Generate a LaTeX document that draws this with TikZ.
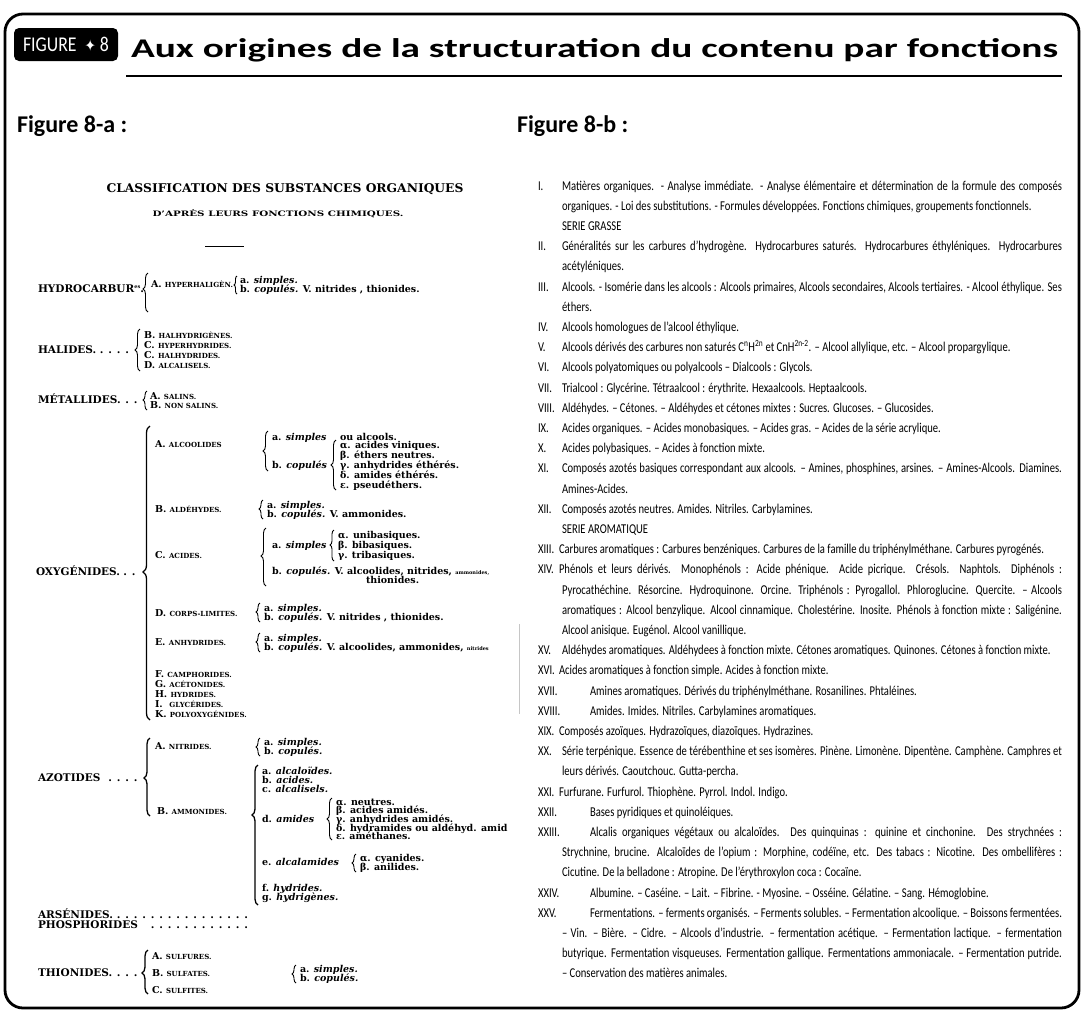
\documentclass[tikz,border=0pt]{standalone}
\usepackage{fontspec}
\usepackage{graphicx}
\usetikzlibrary{decorations.pathreplacing}
\setmainfont{Carlito}
\newfontfamily\scan{DejaVu Serif}
\newfontfamily\djv{DejaVu Sans}
\newfontfamily\cond[FakeStretch=0.785]{Carlito}

\tikzset{
  every node/.style={inner sep=0pt, outer sep=0pt},
  rt/.style={anchor=base west, font=\cond\fontsize{13.5}{16}\selectfont},
  lt/.style={anchor=base west, font=\scan\bfseries\fontsize{9.5}{10}\selectfont},
  cat/.style={anchor=base west, font=\scan\bfseries\fontsize{10.5}{11}\selectfont},
  brc/.style={decorate, line width=0.9pt},
}
\newcommand\smc[1]{{\fontsize{7}{8}\selectfont #1}}
\newcommand\tnyf[1]{{\fontsize{5}{5}\selectfont #1}}
\newcommand\dl[2]{\makebox[#1pt][l]{#2\leaders\hbox to 8.5pt{\hss.\hss}\hfill}}
% brace: name, x, ytop, ybot, ytip, amplitude
\newcommand\Br[6]{%
  \coordinate (#1t) at (#2,#3); \coordinate (#1b) at (#2,#4);
  \pgfmathsetmacro\asp{(#4-#5)/(#4-#3)}
  \draw[brc, decoration={brace,amplitude=#6pt,aspect=\asp}] (#1b) -- (#1t);}
\newcommand\BBr[6]{%
  \coordinate (#1t) at (#2,#3); \coordinate (#1b) at (#2,#4);
  \pgfmathsetmacro\asp{(#4-#5)/(#4-#3)}
  \draw[brc, line width=1.3pt, decoration={brace,amplitude=#6pt,aspect=\asp}] (#1b) -- (#1t);}
\newcommand\Lf[4]{\node[lt] (#1) at (#2,#3+3.5) {#4};}
\newcommand\Cf[4]{\node[cat] (#1) at (#2,#3+3.5) {#4};}
\newcommand\Rl[4]{\node[rt] (#1) at (#2,{190+20.2*(#3-1)}) {#4};}
\newcommand\Rj[4]{\node[rt] (#1) at (#2,{190+20.2*(#3-1)}) {\makebox[\dimexpr1062pt-#2pt\relax][s]{#4}};}
\newcommand\Rn[3]{\node[rt] (#1) at (538,{190+20.2*(#2-1)}) {#3};}

\begin{document}
\begin{tikzpicture}[x=1pt,y=-1pt]
\useasboundingbox (0,0) rectangle (1082,1010);
% frame
\draw[line width=2.8pt, rounded corners=18pt] (5,14) rectangle (1079,1008);
% header
\node[fill=black, rounded corners=5pt, minimum width=104, minimum height=33, text=white,
      font=\fontsize{21}{23}\selectfont] (figbox) at (66,44.5)
      {\resizebox{86pt}{\height}{FIGURE\ \ {\djv\fontsize{16}{16}\selectfont ✦}\ 8}};
\node[anchor=base west, font=\bfseries\fontsize{27}{30}\selectfont] (title) at (131,57)
      {\resizebox{927pt}{\height}{Aux origines de la structuration du contenu par fonctions}};
\coordinate (u1) at (126,76); \coordinate (u2) at (1062,76);
\draw[line width=2pt] (u1) -- (u2);
\node[anchor=base west, font=\bfseries\fontsize{24}{26}\selectfont] (fa) at (17,132) {Figure 8-a :};
\node[anchor=base west, font=\bfseries\fontsize{24}{26}\selectfont] (fb) at (517,132) {Figure 8-b :};

% ===== Figure 8-a (scan) =====
\node[font=\scan\bfseries\fontsize{12}{12}\selectfont] (cls) at (285,189)
   {\resizebox{357pt}{\height}{CLASSIFICATION DES SUBSTANCES ORGANIQUES}};
\node[font=\scan\bfseries\fontsize{7.5}{8}\selectfont] (dap) at (278,214)
   {\resizebox{251pt}{\height}{D’APRÈS LEURS FONCTIONS CHIMIQUES.}};
\coordinate (rl1) at (205,246); \coordinate (rl2) at (244,246);
\draw[line width=1pt] (rl1) -- (rl2);

\Cf{hyd}{38}{289}{HYDROCARBUR{\fontsize{5}{5}\selectfont\raisebox{4pt}{es}}.}
\Br{bhyd}{148}{273}{312}{289}{5}
\Lf{hypa}{151}{284}{A. \smc{HYPERHALIGÈN.}}
\Br{bhyp}{237}{276}{294}{285}{3}
\Lf{hyp1}{240}{280}{a. \textit{simples.}}
\Lf{hyp2}{240}{289}{b. \textit{copulés.} V. nitrides , thionides.}

\Cf{hal}{38}{350}{\dl{97}{HALIDES.}}
\Br{bhal}{140}{329}{371}{350}{5}
\Lf{hal1}{144}{335}{B. \smc{HALHYDRIGÈNES.}}
\Lf{hal2}{144}{345}{C. \smc{HYPERHYDRIDES.}}
\Lf{hal3}{144}{355}{C. \smc{HALHYDRIDES.}}
\Lf{hal4}{144}{365}{D. \smc{ALCALISELS.}}

\Cf{met}{38}{400}{\dl{105}{MÉTALLIDES.}}
\Br{bmet}{147}{391}{410}{400}{4}
\Lf{met1}{150}{396}{A. \smc{SALINS.}}
\Lf{met2}{150}{405}{B. \smc{NON SALINS.}}

\Cf{oxy}{36}{572}{\dl{103}{OXYGÉNIDES.}}
\BBr{boxy}{150}{426}{720}{572}{7}
\Lf{alc}{155}{444}{A. \smc{ALCOOLIDES}}
\Br{balc}{268}{431}{471}{451}{5}
\Lf{alc1}{272}{437}{a. \textit{simples}}
\Lf{alc1b}{340}{437}{ou alcools.}
\Lf{alc2}{272}{465}{b. \textit{copulés}}
\Br{balc2}{336}{440}{490}{465}{5}
\Lf{alg1}{340}{445}{α. acides viniques.}
\Lf{alg2}{340}{455}{β. éthers neutres.}
\Lf{alg3}{340}{465}{γ. anhydrides éthérés.}
\Lf{alg4}{340}{475}{δ. amides éthérés.}
\Lf{alg5}{340}{485}{ε. pseudéthers.}

\Lf{ald}{155}{509}{B. \smc{ALDÉHYDES.}}
\Br{bald}{263}{500}{519}{509}{4}
\Lf{ald1}{267}{505}{a. \textit{simples.}}
\Lf{ald2}{267}{514}{b. \textit{copulés.} V. ammonides.}

\Lf{aci}{155}{555}{C. \smc{ACIDES.}}
\Br{baci}{266}{528}{586}{556}{5}
\Lf{aci1}{272}{545}{a. \textit{simples}}
\Br{baci1}{334}{530}{561}{545}{4}
\Lf{acg1}{338}{535}{α. unibasiques.}
\Lf{acg2}{338}{545}{β. bibasiques.}
\Lf{acg3}{338}{555}{γ. tribasiques.}
\Lf{aci2}{272}{571}{b. \textit{copulés.} V. alcoolides, nitrides, \tnyf{ammonides,}}
\Lf{aci3}{366}{580}{thionides.}

\Lf{cor}{155}{613}{D. \smc{CORPS-LIMITES.}}
\Br{bcor}{260}{603}{622}{612}{4}
\Lf{cor1}{264}{608}{a. \textit{simples.}}
\Lf{cor2}{264}{617}{b. \textit{copulés.} V. nitrides , thionides.}

\Lf{anh}{155}{642}{E. \smc{ANHYDRIDES.}}
\Br{banh}{260}{633}{652}{642}{4}
\Lf{anh1}{264}{638}{a. \textit{simples.}}
\Lf{anh2}{264}{647}{b. \textit{copulés.} V. alcoolides, ammonides, \tnyf{nitrides}}
\coordinate (sc1) at (519,624); \coordinate (sc2) at (519,714);
\draw[gray!45, line width=0.4pt] (sc1) -- (sc2);

\Lf{cam}{155}{674}{F. \smc{CAMPHORIDES.}}
\Lf{ace}{155}{684}{G. \smc{ACÉTONIDES.}}
\Lf{hydr}{155}{694}{H. \smc{HYDRIDES.}}
\Lf{gly}{155}{704}{I.\ \ \smc{GLYCÉRIDES.}}
\Lf{pol}{155}{714}{K. \smc{POLYOXYGÉNIDES.}}

\Cf{azo}{38}{778}{\dl{105}{AZOTIDES }}
\BBr{bazo}{150}{738}{816}{778}{6}
\Lf{nit}{155}{746}{A. \smc{NITRIDES.}}
\Br{bnit}{260}{738}{756}{747}{4}
\Lf{nit1}{264}{742}{a. \textit{simples.}}
\Lf{nit2}{264}{751}{b. \textit{copulés.}}
\Lf{amm}{157}{811}{B. \smc{AMMONIDES.}}
\BBr{bamm}{258}{765}{905}{815}{6}
\Lf{amm1}{262}{771}{a. \textit{alcaloïdes.}}
\Lf{amm2}{262}{780}{b. \textit{acides.}}
\Lf{amm3}{262}{789}{c. \textit{alcalisels.}}
\Lf{amm4}{262}{819}{d. \textit{amides}}
\Br{bami}{332}{798}{840}{819}{5}
\Lf{ami1}{336}{802}{α. neutres.}
\Lf{ami2}{336}{810}{β. acides amidés.}
\Lf{ami3}{336}{819}{γ. anhydrides amidés.}
\Lf{ami4}{336}{828}{δ. hydramides ou aldéhyd. amid}
\Lf{ami5}{336}{836}{ε. améthanes.}
\Lf{amm5}{262}{862}{e. \textit{alcalamides}}
\Br{bala}{356}{854}{872}{863}{4}
\Lf{ala1}{360}{858}{α. cyanides.}
\Lf{ala2}{360}{867}{β. anilides.}
\Lf{amm6}{262}{888}{f. \textit{hydrides.}}
\Lf{amm7}{262}{897}{g. \textit{hydrigènes.}}

\Cf{ars}{38}{915}{\dl{217}{ARSÉNIDES.}}
\Cf{pho}{38}{925}{\dl{217}{PHOSPHORIDES }}
\Cf{thi}{38}{973}{\dl{105}{THIONIDES.}}
\BBr{bthi}{148}{950}{994}{973}{6}
\Lf{thi1}{152}{956}{A. \smc{SULFURES.}}
\Lf{thi2}{152}{973}{B. \smc{SULFATES.}}
\Lf{thi3}{152}{990}{C. \smc{SULFITES.}}
\Br{bths}{296}{965}{983}{974}{4}
\Lf{ths1}{300}{969}{a. \textit{simples.}}
\Lf{ths2}{300}{978}{b. \textit{copulés.}}

% ===== Figure 8-b (list) =====
\Rn{n1}{1}{I.}
\Rj{r1}{562}{1}{Matières organiques. - Analyse immédiate. - Analyse élémentaire et détermination de la formule des composés}
\Rl{r2}{562}{2}{organiques. - Loi des substitutions. - Formules développées. Fonctions chimiques, groupements fonctionnels.}
\Rl{r3}{562}{3}{SERIE GRASSE}
\Rn{n4}{4}{II.}
\Rj{r4}{562}{4}{Généralités sur les carbures d’hydrogène. Hydrocarbures saturés. Hydrocarbures éthyléniques. Hydrocarbures}
\Rl{r5}{562}{5}{acétyléniques.}
\Rn{n6}{6}{III.}
\Rj{r6}{562}{6}{Alcools. - Isomérie dans les alcools : Alcools primaires, Alcools secondaires, Alcools tertiaires. - Alcool éthylique. Ses}
\Rl{r7}{562}{7}{éthers.}
\Rn{n8}{8}{IV.}
\Rl{r8}{562}{8}{Alcools homologues de l’alcool éthylique.}
\Rn{n9}{9}{V.}
\Rl{r9}{562}{9}{Alcools dérivés des carbures non saturés C\textsuperscript{n}H\textsuperscript{2n} et CnH\textsuperscript{2n-2}. – Alcool allylique, etc. – Alcool propargylique.}
\Rn{n10}{10}{VI.}
\Rl{r10}{562}{10}{Alcools polyatomiques ou polyalcools – Dialcools : Glycols.}
\Rn{n11}{11}{VII.}
\Rl{r11}{562}{11}{Trialcool : Glycérine. Tétraalcool : érythrite. Hexaalcools. Heptaalcools.}
\Rn{n12}{12}{VIII.}
\Rl{r12}{562}{12}{Aldéhydes. – Cétones. – Aldéhydes et cétones mixtes : Sucres. Glucoses. – Glucosides.}
\Rn{n13}{13}{IX.}
\Rl{r13}{562}{13}{Acides organiques. – Acides monobasiques. – Acides gras. – Acides de la série acrylique.}
\Rn{n14}{14}{X.}
\Rl{r14}{562}{14}{Acides polybasiques. – Acides à fonction mixte.}
\Rn{n15}{15}{XI.}
\Rj{r15}{562}{15}{Composés azotés basiques correspondant aux alcools. – Amines, phosphines, arsines. – Amines-Alcools. Diamines.}
\Rl{r16}{562}{16}{Amines-Acides.}
\Rn{n17}{17}{XII.}
\Rl{r17}{562}{17}{Composés azotés neutres. Amides. Nitriles. Carbylamines.}
\Rl{r18}{562}{18}{SERIE AROMATIQUE}
\Rn{n19}{19}{XIII.}
\Rl{r19}{559}{19}{Carbures aromatiques : Carbures benzéniques. Carbures de la famille du triphénylméthane. Carbures pyrogénés.}
\Rn{n20}{20}{XIV.}
\Rj{r20}{559}{20}{Phénols et leurs dérivés. Monophénols : Acide phénique. Acide picrique. Crésols. Naphtols. Diphénols :}
\Rj{r21}{562}{21}{Pyrocathéchine. Résorcine. Hydroquinone. Orcine. Triphénols : Pyrogallol. Phloroglucine. Quercite. – Alcools}
\Rj{r22}{562}{22}{aromatiques : Alcool benzylique. Alcool cinnamique. Cholestérine. Inosite. Phénols à fonction mixte : Saligénine.}
\Rl{r23}{562}{23}{Alcool anisique. Eugénol. Alcool vanillique.}
\Rn{n24}{24}{XV.}
\Rl{r24}{562}{24}{Aldéhydes aromatiques. Aldéhydees à fonction mixte. Cétones aromatiques. Quinones. Cétones à fonction mixte.}
\Rn{n25}{25}{XVI.}
\Rl{r25}{559}{25}{Acides aromatiques à fonction simple. Acides à fonction mixte.}
\Rn{n26}{26}{XVII.}
\Rl{r26}{590}{26}{Amines aromatiques. Dérivés du triphénylméthane. Rosanilines. Phtaléines.}
\Rn{n27}{27}{XVIII.}
\Rl{r27}{590}{27}{Amides. Imides. Nitriles. Carbylamines aromatiques.}
\Rn{n28}{28}{XIX.}
\Rl{r28}{559}{28}{Composés azoïques. Hydrazoïques, diazoïques. Hydrazines.}
\Rn{n29}{29}{XX.}
\Rj{r29}{562}{29}{Série terpénique. Essence de térébenthine et ses isomères. Pinène. Limonène. Dipentène. Camphène. Camphres et}
\Rl{r30}{562}{30}{leurs dérivés. Caoutchouc. Gutta-percha.}
\Rn{n31}{31}{XXI.}
\Rl{r31}{559}{31}{Furfurane. Furfurol. Thiophène. Pyrrol. Indol. Indigo.}
\Rn{n32}{32}{XXII.}
\Rl{r32}{590}{32}{Bases pyridiques et quinoléiques.}
\Rn{n33}{33}{XXIII.}
\Rj{r33}{590}{33}{Alcalis organiques végétaux ou alcaloïdes. Des quinquinas : quinine et cinchonine. Des strychnées :}
\Rj{r34}{562}{34}{Strychnine, brucine. Alcaloïdes de l’opium : Morphine, codéïne, etc. Des tabacs : Nicotine. Des ombellifères :}
\Rl{r35}{562}{35}{Cicutine. De la belladone : Atropine. De l’érythroxylon coca : Cocaïne.}
\Rn{n36}{36}{XXIV.}
\Rl{r36}{590}{36}{Albumine. – Caséine. – Lait. – Fibrine. - Myosine. – Osséine. Gélatine. – Sang. Hémoglobine.}
\Rn{n37}{37}{XXV.}
\Rj{r37}{590}{37}{Fermentations. – ferments organisés. – Ferments solubles. – Fermentation alcoolique. – Boissons fermentées.}
\Rj{r38}{562}{38}{– Vin. – Bière. – Cidre. – Alcools d’industrie. – fermentation acétique. – Fermentation lactique. – fermentation}
\Rj{r39}{562}{39}{butyrique. Fermentation visqueuses. Fermentation gallique. Fermentations ammoniacale. – Fermentation putride.}
\Rl{r40}{562}{40}{– Conservation des matières animales.}
\end{tikzpicture}
\end{document}
